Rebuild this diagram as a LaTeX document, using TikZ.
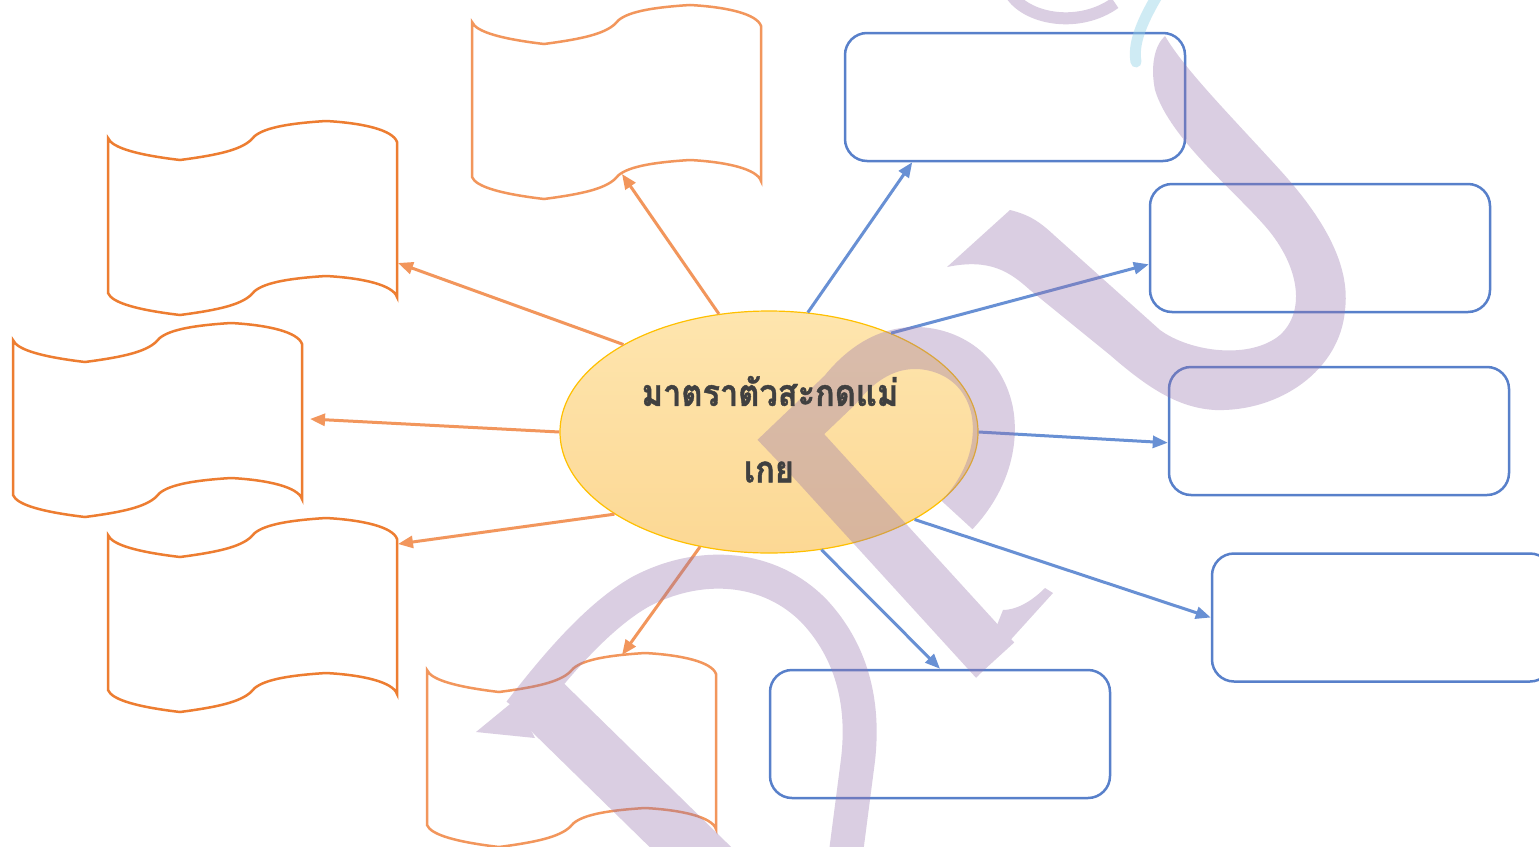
\documentclass[tikz,border=0pt]{standalone}
\usepackage{fontspec}
\newfontfamily\thaifont[Script=Thai,BoldFeatures={FakeBold=1.2}]{Loma}
\usetikzlibrary{shapes.geometric,arrows.meta,calc}
\definecolor{orA}{RGB}{237,125,49}
\definecolor{orB}{RGB}{242,150,92}
\definecolor{blA}{RGB}{88,128,202}
\definecolor{blB}{RGB}{104,144,212}
\definecolor{elline}{RGB}{255,192,0}
\definecolor{eltop}{RGB}{254,229,174}
\definecolor{elbot}{RGB}{252,216,148}
\definecolor{txtc}{RGB}{64,64,64}
\definecolor{wm}{RGB}{149,115,172}
\definecolor{wmc}{RGB}{150,212,232}
\tikzset{
  wavebox/.pic={
    \path[pic actions] (0,0) .. controls (4,10) and (30,17) .. (72,22)
      .. controls (110,17) and (132,12) .. (143,2)
      .. controls (150,-8) and (170,-14) .. (218,-17)
      .. controls (255,-15) and (285,-8) .. (289,4)
      -- (289,159)
      .. controls (285,147) and (255,140) .. (218,138)
      .. controls (170,141) and (150,147) .. (143,157)
      .. controls (132,167) and (110,172) .. (72,177)
      .. controls (30,172) and (4,165) .. (0,155) -- cycle;
    \coordinate (-bs) at (150,152);
    \coordinate (-tp) at (195,-15);
    \coordinate (-r125) at (290,125);
    \coordinate (-r79) at (297,79);
    \coordinate (-r8) at (290,9);
  },
  bluebox/.style={draw=blA, line width=2.5pt, rounded corners=22pt,
    minimum width=340pt, minimum height=128pt, inner sep=0pt, fill=white},
  orarrow/.style={draw=orB, line width=3pt, -{Triangle[length=15pt,width=12pt]}},
  blarrow/.style={draw=blB, line width=3pt, -{Triangle[length=15pt,width=12pt]}},
  centre/.style={ellipse, draw=elline, line width=1.2pt, top color=eltop,
    bottom color=elbot, minimum width=418pt, minimum height=242pt, inner sep=0pt},
  ctext/.style={font=\thaifont\bfseries\fontsize{37}{44}\selectfont, text=txtc, inner sep=0pt},
  wmstroke/.style={draw=wm, line cap=butt},
}
\begin{document}
\begin{tikzpicture}[x=1pt,y=-1pt]
\useasboundingbox (0,0) rectangle (1539,846);
\clip (0,0) rectangle (1539,846);
\fill[white] (0,0) rectangle (1539,846);

% orange wave boxes
\pic[draw=orB, line width=2.5pt, fill=white] (w1) at (472,22) {wavebox};
\pic[draw=orA, line width=2.5pt, fill=white] (w2) at (108,138) {wavebox};
\pic[draw=orA, line width=2.5pt, fill=white] (w3) at (13,340) {wavebox};
\pic[draw=orA, line width=2.5pt, fill=white] (w4) at (108,535) {wavebox};
\pic[draw=orB, line width=2.5pt, fill=white] (w5) at (427,670) {wavebox};

% blue boxes
\node[bluebox] (r1) at (1015,97) {};
\node[bluebox] (r2) at (1320,248) {};
\node[bluebox] (r3) at (1339,431) {};
\node[bluebox] (r4) at (1382,617.5) {};
\node[bluebox] (r5) at (940,734) {};

% centre
\node[centre] (c) at (769,432) {};

% connectors
\draw[orarrow] (c.113.5) -- (w1-bs);
\draw[orarrow] (c.149.7) -- (w2-r125);
\draw[orarrow] (c.180.5) -- (w3-r79);
\draw[orarrow] (c.208.5) -- (w4-r8);
\draw[orarrow] (c.239.2) -- (w5-tp);
\draw[blarrow] (c.72.1) -- ($(r1.south west)!0.2!(r1.south east)$);
\draw[blarrow] (c.39.4) -- ($(r2.north west)!0.625!(r2.south west)$);
\draw[blarrow] (c.-0.3) -- ($(r3.north west)!0.59!(r3.south west)$);
\draw[blarrow] (c.-31) -- (r4.west);
\draw[blarrow] (c.-66.1) -- (r5.north);

% watermark
\begin{scope}[transparency group, opacity=0.35]
  % right hook
  \fill[wm] (1165,36) .. controls (1185,70) and (1230,115) .. (1280,170)
    .. controls (1330,225) and (1350,270) .. (1345,310)
    .. controls (1340,370) and (1280,412) .. (1215,410)
    .. controls (1180,408) and (1150,390) .. (1110,355)
    -- (1030,290) .. controls (1010,272) and (990,258) .. (947,267)
    -- (1010,210) .. controls (1030,215) and (1040,222) .. (1055,236)
    -- (1160,330) .. controls (1190,352) and (1250,360) .. (1280,335)
    .. controls (1305,312) and (1300,270) .. (1270,232)
    .. controls (1240,195) and (1170,140) .. (1155,90)
    .. controls (1150,65) and (1155,45) .. (1165,36) -- cycle;
  % top small arc
  \draw[wmstroke, line width=12pt] (1012,-4) .. controls (1030,20) and (1080,28) .. (1115,3);
  % middle letter
  \draw[wmstroke, line width=42pt] (957,515) .. controls (990,480) and (998,440) .. (992,410)
    .. controls (982,365) and (945,348) .. (915,348)
    .. controls (885,348) and (860,365) .. (840,390) -- (772,455);
  \draw[wmstroke, line width=52pt] (788,433) -- (995,660);
  \fill[wm] (976,678) -- (1053,593) -- (1045,588) .. controls (1030,603) and (1015,610) .. (1003,610) -- cycle;
  % bottom letter
  \draw[wmstroke, line width=34pt] (520,712) .. controls (560,660) and (600,615) .. (640,592)
    .. controls (700,560) and (770,565) .. (815,612)
    .. controls (850,650) and (865,700) .. (858,760) -- (845,860);
  \draw[wmstroke, line width=57pt] (533,693) -- (720,876);
  \fill[wm] (515,700) -- (476,732) -- (535,738) -- cycle;
\end{scope}
\draw[draw=wmc, opacity=0.45, line width=11pt, line cap=round] (1157,-4) .. controls (1140,25) and (1133,45) .. (1136,62);

% centre text
\node[ctext] (t1) at (770,391) {\scalebox{0.88}[1]{มาตราตัวสะกดแม่}};
\node[ctext] (t2) at (769,472) {\scalebox{0.88}[1]{เกย}};
\end{tikzpicture}
\end{document}
